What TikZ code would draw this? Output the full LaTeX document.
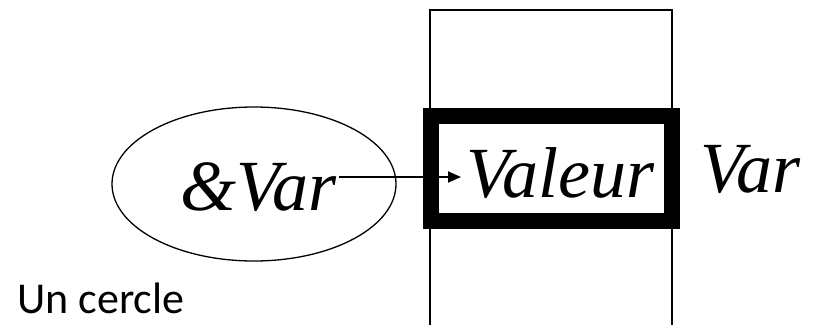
\documentclass[tikz,border=0pt]{standalone}
\usepackage{fontspec}
\setmainfont{Liberation Serif}
\newfontfamily\labelfont{Carlito}
\usetikzlibrary{arrows.meta,shapes.geometric}
\begin{document}
\begin{tikzpicture}[x=1pt,y=-1pt,
  bigtext/.style={font=\itshape\fontsize{72}{72}\selectfont,inner sep=0pt,anchor=base west},
  thin line/.style={line width=1.3pt},
]
\useasboundingbox (0,0) rectangle (818,324);
% memory column
\draw[thin line] (430,330) -- (430,10) -- (672,10) -- (672,330);
% highlighted cell
\node[draw,line width=16pt,minimum width=241pt,minimum height=105pt,inner sep=0pt] (cell) at (551,168.5) {};
% ellipse
\node[draw,thin line,ellipse,minimum width=284pt,minimum height=154pt,inner sep=0pt] (circ) at (254,184) {};
% texts
\node[bigtext] (amp) at (180,210) {\&Var};
\node[bigtext] (val) at (466,197) {Valeur};
\node[bigtext] (var) at (700,192) {Var};
\node[font=\labelfont\fontsize{44}{44}\selectfont,inner sep=0pt,anchor=base west] (lbl) at (17,313) {Un cercle};
% arrow
\coordinate (as) at (339,177);
\coordinate (ae) at (461,177);
\draw[line width=1.8pt,-{Triangle[length=13pt,width=11pt]}] (as) -- (ae);
\end{tikzpicture}
\end{document}
